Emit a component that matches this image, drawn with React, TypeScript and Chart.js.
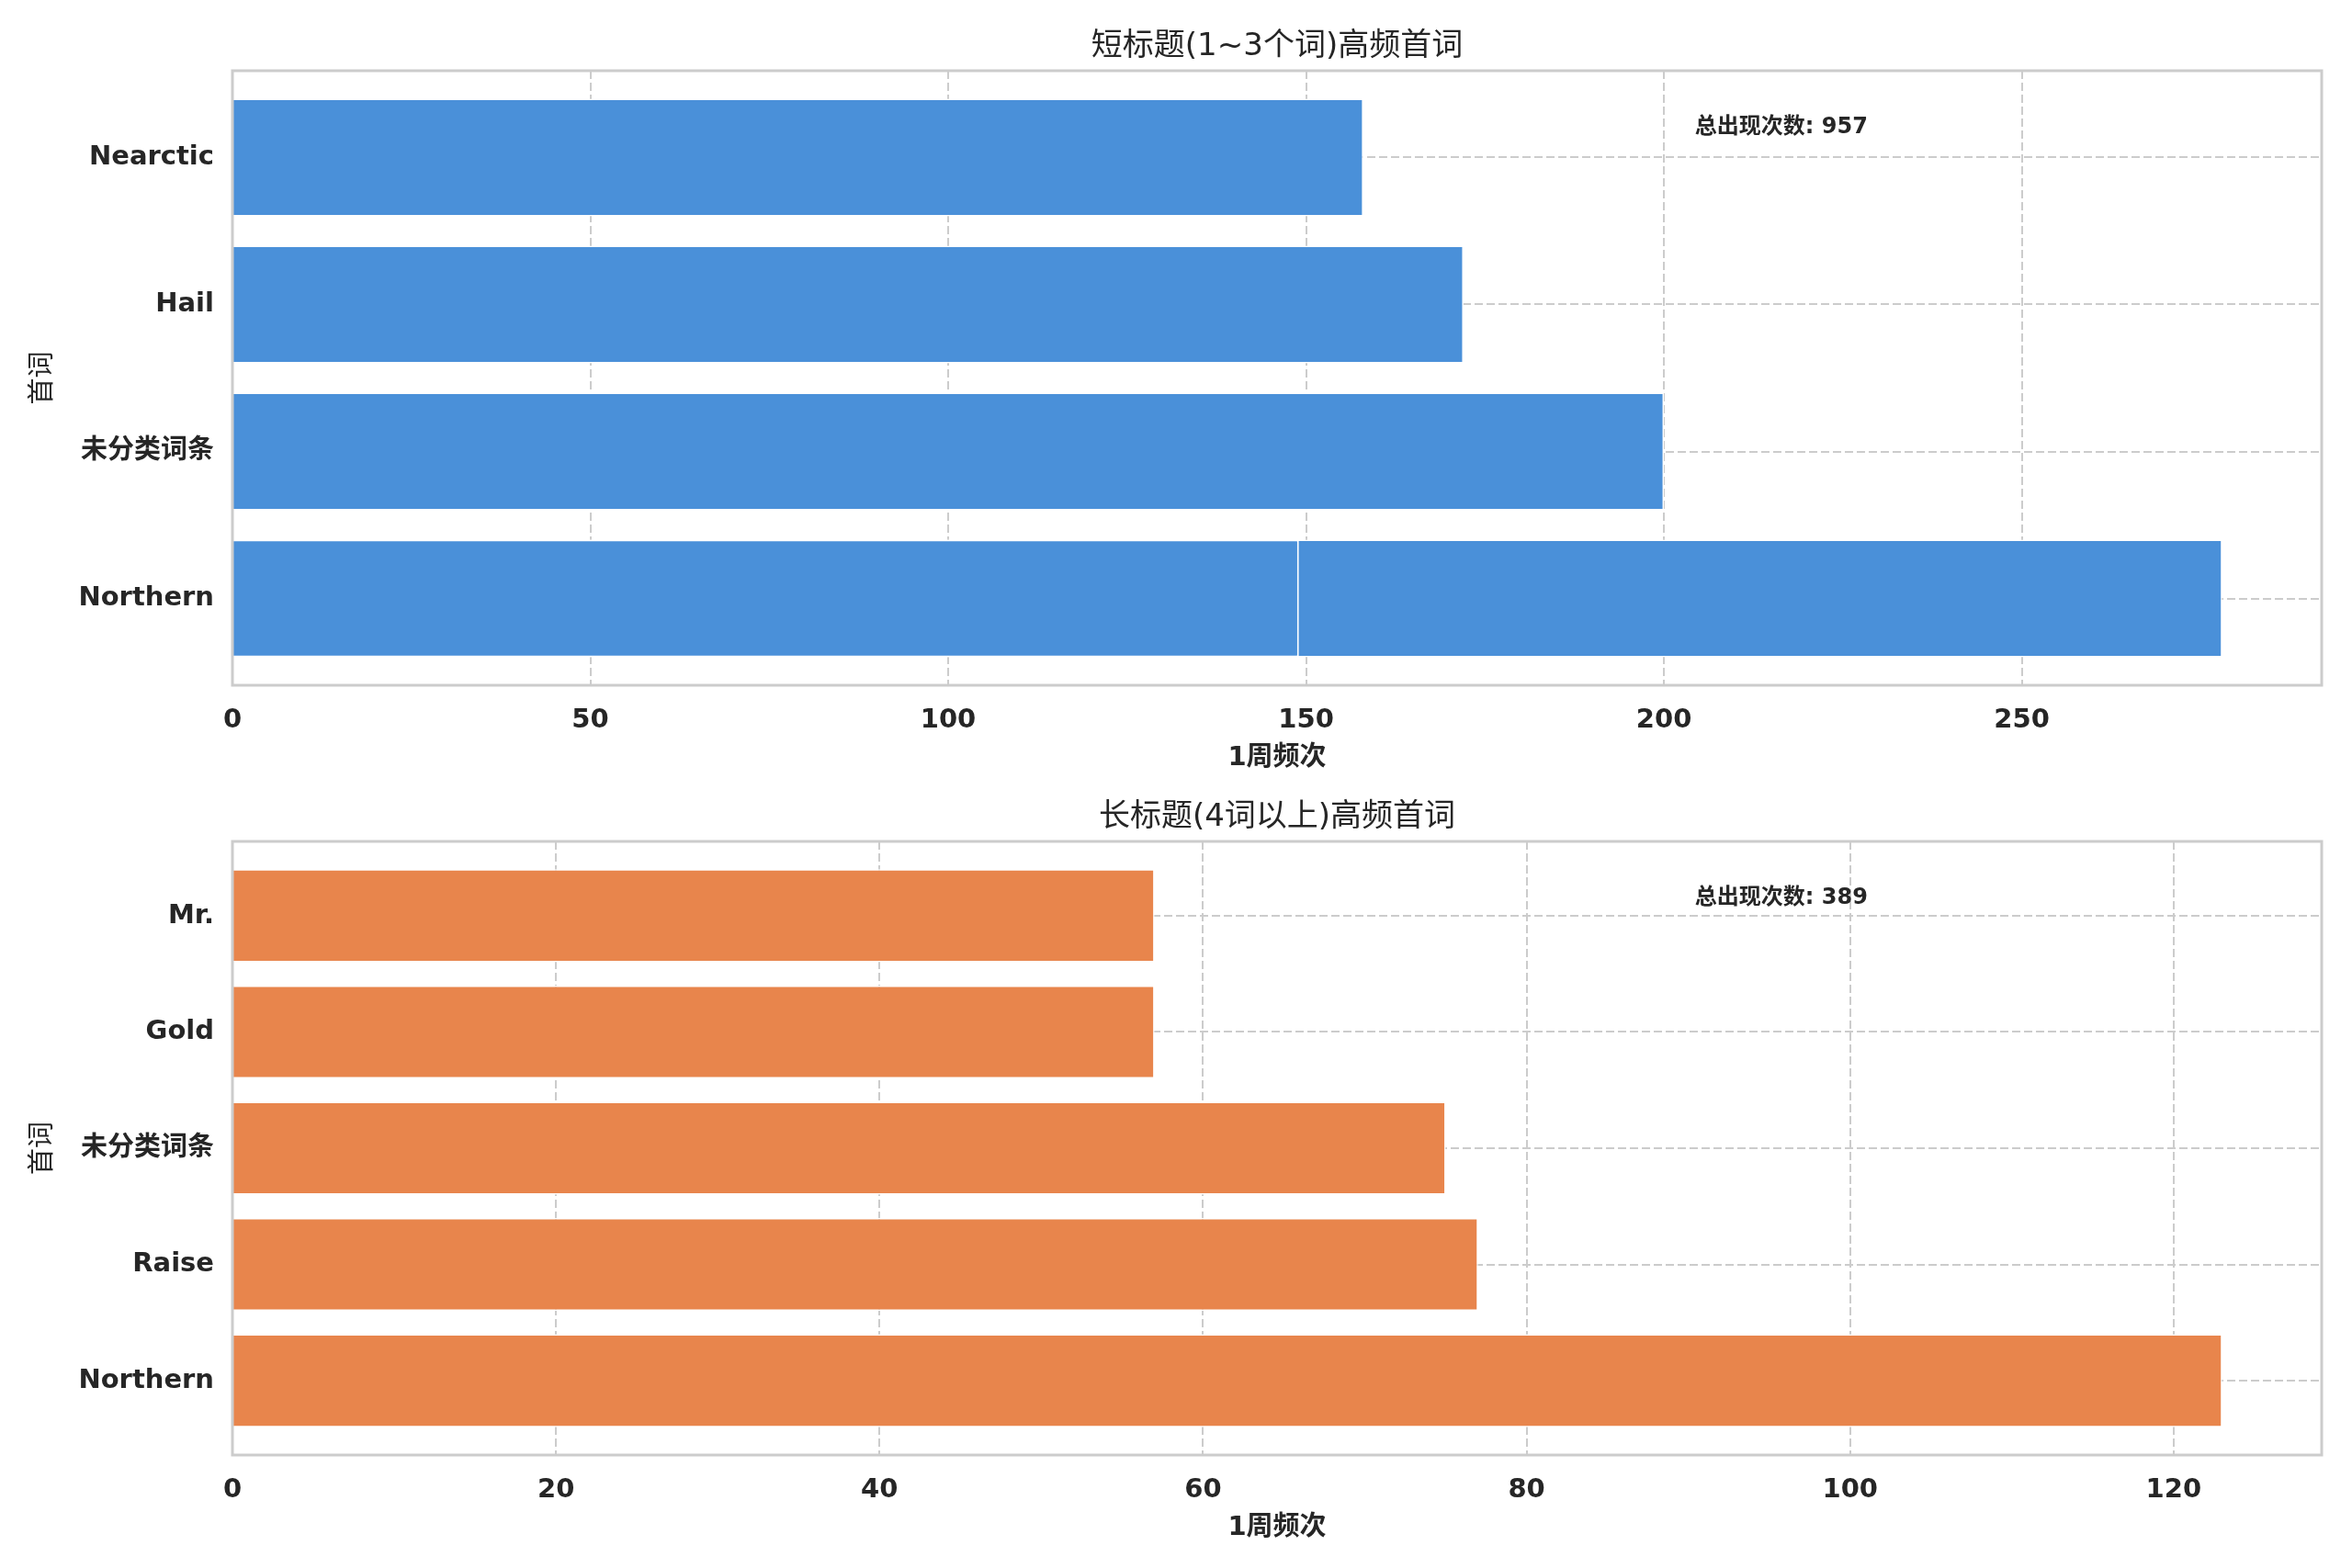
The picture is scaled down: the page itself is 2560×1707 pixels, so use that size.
import { useEffect, useRef } from 'react'
import { Chart, ChartConfiguration, registerables } from 'chart.js'

Chart.register(...registerables)

const FONT = "'DejaVu Sans', 'Noto Sans CJK SC', sans-serif"
const INK = '#262626'
const GRID = '#cccccc'

// 上图：短标题（1~3词）
const shortWords = ['Nearctic', 'Hail', '未分类词条', 'Northern']
const shortCounts = [158, 172, 200, 278]
// 第二条同名 Northern，叠在同一行上
const shortExtraWords = ['Northern']
const shortExtraCounts = [149]
const shortTicks = [0, 50, 100, 150, 200, 250]

// 下图：长标题（4词以上）
const longWords = ['Mr.', 'Gold', '未分类词条', 'Raise', 'Northern']
const longCounts = [57, 57, 75, 77, 123]
const longTicks = [0, 20, 40, 60, 80, 100, 120]

interface PanelProps {
  title: string
  words: string[]
  counts: number[]
  extraWords?: string[]
  extraCounts?: number[]
  ticks: number[]
  color: string
  top: number
  height: number
  areaTop: number
  areaBottom: number
}

function BarPanel({ title, words, counts, extraWords = [], extraCounts = [], ticks, color, top, height, areaTop, areaBottom }: PanelProps) {
  const canvasRef = useRef<HTMLCanvasElement>(null)
  const chartRef = useRef<Chart | null>(null)

  useEffect(() => {
    if (!canvasRef.current) return
    if (chartRef.current) chartRef.current.destroy()
    const ctx = canvasRef.current.getContext('2d')
    if (!ctx) return

    const n = words.length
    const all = counts.concat(extraCounts)
    const total = all.reduce((a, b) => a + b, 0)
    const margin = 0.05 * (n - 0.2)

    const main = counts.map((c, i) => ({ x: c, y: n - 1 - i }))
    const extra = extraWords.map((w, j) => ({ x: extraCounts[j], y: n - 1 - words.indexOf(w) }))

    const config: ChartConfiguration = {
      type: 'bar',
      data: {
        datasets: [
          {
            data: extra as any,
            backgroundColor: color,
            borderColor: '#ffffff',
            borderWidth: 2,
            borderSkipped: 'start',
            grouped: false,
            barPercentage: 0.8,
            categoryPercentage: 1,
            order: 0,
          },
          {
            data: main as any,
            backgroundColor: color,
            borderColor: '#ffffff',
            borderWidth: 1.5,
            borderSkipped: 'start',
            grouped: false,
            barPercentage: 0.8,
            categoryPercentage: 1,
            order: 1,
          },
        ],
      },
      options: {
        indexAxis: 'y',
        responsive: true,
        maintainAspectRatio: false,
        animation: false,
        layout: {
          padding: { top: areaTop, right: 33, bottom: height - areaBottom - 60, left: 0 },
        },
        plugins: {
          legend: { display: false },
          tooltip: { enabled: false },
          title: { display: false },
        },
        scales: {
          x: {
            type: 'linear',
            min: 0,
            max: Math.max(...all) * 1.05,
            afterBuildTicks: (s: any) => {
              s.ticks = ticks.map((v) => ({ value: v }))
            },
            afterFit: (s: any) => {
              s.height = 60
            },
            grid: { color: GRID, lineWidth: 2, drawTicks: false },
            border: { display: false, dash: [9, 4] },
            ticks: {
              padding: 21,
              color: INK,
              font: { family: FONT, size: 29, weight: 'bold' },
            },
          },
          y: {
            type: 'linear',
            offset: false,
            min: -0.4 - margin,
            max: n - 1 + 0.4 + margin,
            afterBuildTicks: (s: any) => {
              s.ticks = words.map((_, i) => ({ value: i }))
            },
            afterFit: (s: any) => {
              s.width = 253
            },
            grid: { color: GRID, lineWidth: 2, drawTicks: false, offset: false },
            border: { display: false, dash: [9, 4] },
            ticks: {
              padding: 20,
              color: INK,
              font: { family: FONT, size: 29, weight: 'bold' },
              callback: (v: any) => words[n - 1 - Number(v)],
            },
          },
        },
      },
      plugins: [
        {
          id: 'frameAndText',
          afterDraw(chart) {
            const c = chart.ctx
            const a = chart.chartArea
            const cx = (a.left + a.right) / 2
            c.save()
            c.strokeStyle = GRID
            c.lineWidth = 3
            c.strokeRect(a.left, a.top, a.right - a.left, a.bottom - a.top)

            c.fillStyle = INK
            c.textAlign = 'center'
            c.textBaseline = 'middle'
            c.font = `34px ${FONT}`
            c.fillText(title, cx, a.top - 26)

            c.font = `bold 29px ${FONT}`
            c.fillText('1周频次', cx, a.bottom + 79)

            c.save()
            c.translate(47, (a.top + a.bottom) / 2)
            c.rotate(-Math.PI / 2)
            c.font = `29px ${FONT}`
            c.fillText('首词', 0, 0)
            c.restore()

            c.textAlign = 'left'
            c.font = `bold 24px ${FONT}`
            c.fillText(`总出现次数: ${total}`, a.left + 0.7 * (a.right - a.left), a.top + 62)
            c.restore()
          },
        },
      ],
    }

    chartRef.current = new Chart(ctx, config)

    return () => {
      if (chartRef.current) {
        chartRef.current.destroy()
        chartRef.current = null
      }
    }
  }, [title, words, counts, extraWords, extraCounts, ticks, color, height, areaTop, areaBottom])

  return (
    <div style={{ position: 'absolute', left: 0, top, width: 2560, height }}>
      <canvas ref={canvasRef} />
    </div>
  )
}

export default function App() {
  return (
    <div style={{ position: 'absolute', left: 0, top: 0, width: 2560, height: 1707, background: '#ffffff', overflow: 'hidden' }}>
      <BarPanel
        title="短标题(1~3个词)高频首词"
        words={shortWords}
        counts={shortCounts}
        extraWords={shortExtraWords}
        extraCounts={shortExtraCounts}
        ticks={shortTicks}
        color="#4a90d9"
        top={0}
        height={853}
        areaTop={77}
        areaBottom={746}
      />
      <BarPanel
        title="长标题(4词以上)高频首词"
        words={longWords}
        counts={longCounts}
        ticks={longTicks}
        color="#e8854c"
        top={853}
        height={854}
        areaTop={63}
        areaBottom={731}
      />
    </div>
  )
}
